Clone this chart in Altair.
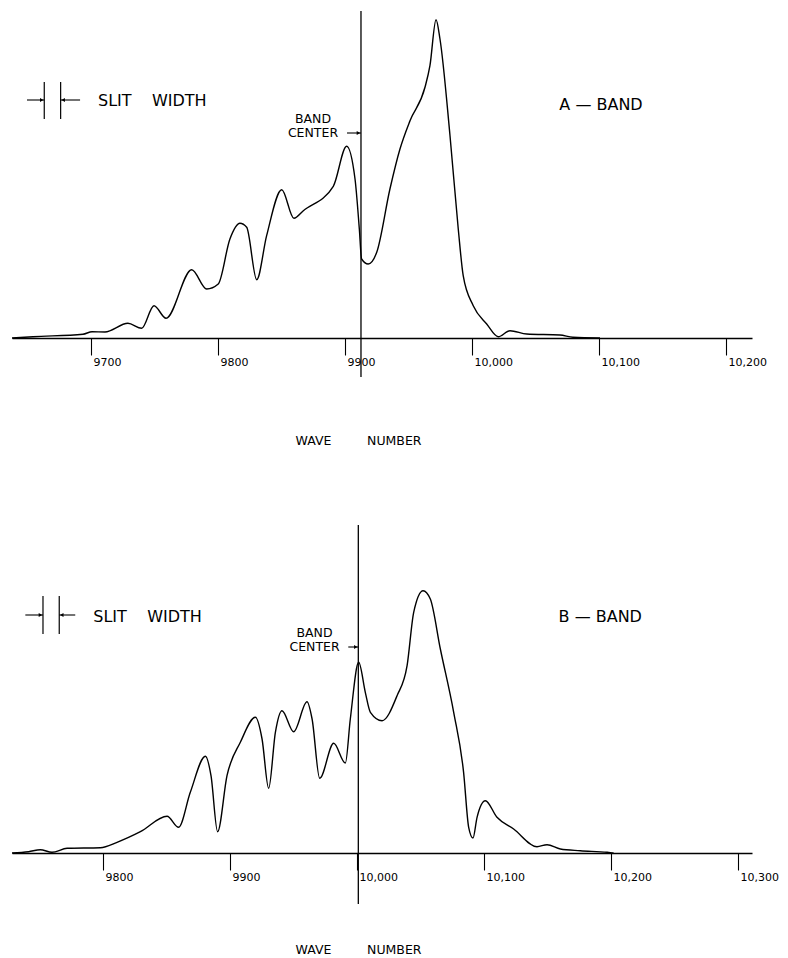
import altair as alt
import pandas as pd

# ---------------- data ----------------
# A-band spectrum (wave number, relative intensity)
a_wn = [9637.8, 9654.3, 9693.7, 9700.8, 9711.0, 9729.1, 9739.9, 9749.6, 9759.1, 9779.3,
        9791.1, 9800.2, 9809.4, 9817.3, 9822.6, 9830.5, 9838.3, 9850.2, 9859.8, 9867.2,
        9890.8, 9901.3, 9907.9, 9911.3, 9913.1, 9918.3, 9925.0, 9935.4, 9943.3, 9951.2,
        9963.0, 9966.9, 9971.7, 9974.8, 9982.7, 9989.2, 9993.1, 10001.0, 10011.6, 10020.7,
        10029.9, 10043.1, 10069.3, 10079.5, 10100.8]
a_int = [0, 1.3, 3.7, 6.3, 6.0, 14.7, 9.7, 32.3, 19.7, 68.3,
         49.0, 54.0, 99.0, 114.7, 110.7, 58.3, 102.3, 148.3, 119.7, 127.3,
         151.7, 191.7, 159.0, 109.0, 79.0, 74.0, 85.7, 149.0, 189.0, 217.3,
         250.7, 272.3, 318.3, 299.0, 202.3, 109.0, 62.3, 32.3, 14.0, 1.3,
         7.3, 4.0, 3.0, 0.7, 0]

# B-band spectrum
b_wn = [9728.3, 9741.4, 9750.6, 9759.8, 9771.7, 9797.9, 9811.0, 9829.4, 9850.4, 9859.5,
        9868.7, 9880.6, 9885.0, 9890.2, 9897.6, 9908.1, 9920.0, 9925.2, 9930.4, 9935.7,
        9940.9, 9950.1, 9960.6, 9964.6, 9970.6, 9981.6, 9990.8, 9994.7, 10001.3, 10006.5,
        10010.5, 10019.7, 10031.5, 10039.4, 10044.6, 10052.0, 10057.7, 10065.6, 10076.1, 10083.9,
        10087.9, 10091.3, 10094.5, 10101.0, 10110.2, 10123.3, 10141.7, 10149.6, 10160.1, 10175.8,
        10196.9, 10202.0]
b_int = [0, 1.3, 3.3, 0.7, 4.7, 5.3, 10.7, 21.3, 36.7, 25.7,
         60.7, 96.7, 77.3, 21.3, 77.3, 110.7, 135.7, 114.0, 64.7, 120.7,
         142.3, 121.3, 151.3, 134.0, 74.7, 109.7, 90.0, 134.0, 190.7, 160.7,
         140.7, 132.3, 157.3, 187.3, 240.7, 262.3, 254.0, 204.0, 140.7, 80.7,
         25.7, 15.0, 35.7, 52.3, 35.7, 24.0, 6.3, 8.3, 4.0, 2.3,
         0.7, 0]

a_ticks = [9700, 9800, 9900, 10000, 10100, 10200]
b_ticks = [9800, 9900, 10000, 10100, 10200, 10300]

a_xdomain = [9637.8, 10220.5]
b_xdomain = [9728.3, 10311.0]

a_center = 9912.6
b_center = 10001.0

# slit width markers (left line, right line)
a_slit = [9663.2, 9676.1]
b_slit = [9752.7, 9765.5]

a_label = "A \u2014 BAND"
b_label = "B \u2014 BAND"
slit_text = "SLIT\u00a0\u00a0\u00a0\u00a0WIDTH"
title_text = "WAVE" + "\u00a0" * 9 + "NUMBER"

assert len(a_wn) == len(a_int) and len(b_wn) == len(b_int)

FONT = "DejaVu Sans"
W = 740
LABEL_EXPR = "datum.value < 10000 ? '' + datum.value : format(datum.value, ',')"


def panel(wn, inten, ticks, xdom, ymax, center, center_low, slit, slit_lo, slit_hi,
          slit_mid, arrow_l, arrow_r, slit_txt_x, slit_txt_y, band_x, band_y, cen_x, cen_y,
          cen_arrow_from, name_x, name_y, name, title_y):
    x = alt.X("wn:Q",
              scale=alt.Scale(domain=xdom, nice=False, zero=False),
              axis=alt.Axis(values=ticks, title=title_text, grid=False,
                            domainColor="black", domainWidth=1.4,
                            tickColor="black", tickWidth=1.1, tickSize=17,
                            labelFont=FONT, labelFontSize=11, labelColor="black",
                            labelAlign="left", labelBaseline="top", labelPadding=1,
                            labelOffset=2, labelExpr=LABEL_EXPR, labelFlush=False,
                            labelOverlap=False,
                            titleFont=FONT, titleFontSize=12.5, titleFontWeight="normal",
                            titleColor="black", titleX=346, titleY=title_y,
                            titleAlign="center", titleBaseline="middle"))
    y = alt.Y("I:Q", scale=alt.Scale(domain=[0, ymax], nice=False), axis=None)

    spec = pd.DataFrame({"wn": wn, "I": inten})
    line = alt.Chart(spec).mark_line(interpolate="monotone", color="black",
                                      strokeWidth=1.4).encode(x=x, y=y)

    # band-center vertical line
    cdf = pd.DataFrame({"wn": [center], "I": [ymax], "I2": [center_low]})
    crule = alt.Chart(cdf).mark_rule(color="black", strokeWidth=1.3).encode(
        x=x, y=y, y2="I2:Q")

    # slit width vertical lines
    sdf = pd.DataFrame({"wn": slit, "I": [slit_hi, slit_hi], "I2": [slit_lo, slit_lo]})
    srule = alt.Chart(sdf).mark_rule(color="black", strokeWidth=1.2).encode(
        x=x, y=y, y2="I2:Q")

    # horizontal arrow shafts (slit arrows + band-center arrow)
    hdf = pd.DataFrame({"wn": [arrow_l, slit[1], cen_arrow_from],
                        "wn2": [slit[0], arrow_r, center],
                        "I": [slit_mid, slit_mid, cen_y]})
    hrule = alt.Chart(hdf).mark_rule(color="black", strokeWidth=1.1).encode(
        x=x, x2="wn2:Q", y=y)

    # arrow heads
    pdf = pd.DataFrame({"wn": [slit[0] - 2.0, slit[1] + 2.0, center - 2.0],
                        "I": [slit_mid, slit_mid, cen_y],
                        "shape": ["triangle-right", "triangle-left", "triangle-right"]})
    heads = alt.Chart(pdf).mark_point(filled=True, color="black", size=16, opacity=1).encode(
        x=x, y=y, shape=alt.Shape("shape:N", scale=None))

    # left aligned text
    ldf = pd.DataFrame({"wn": [slit_txt_x], "I": [slit_txt_y], "t": [slit_text]})
    ltext = alt.Chart(ldf).mark_text(align="left", baseline="middle", font=FONT,
                                     fontSize=16, color="black").encode(
        x=x, y=y, text="t:N")

    # centred text
    tdf = pd.DataFrame({"wn": [band_x, cen_x, name_x], "I": [band_y, cen_y, name_y],
                        "t": ["BAND", "CENTER", name], "fs": [12.5, 12.5, 16]})
    ctext = alt.Chart(tdf).mark_text(align="center", baseline="middle", font=FONT,
                                     color="black").encode(
        x=x, y=y, text="t:N", size=alt.Size("fs:Q", scale=None))

    return alt.layer(line, crule, srule, hrule, heads, ltext, ctext).properties(
        width=W, height=ymax)


top = panel(a_wn, a_int, a_ticks, a_xdomain, 327, a_center, -39, a_slit, 219, 256, 238,
            9649.6, 9691.4, 9705.5, 237, 9874.8, 219.5, 9874.8, 205, 9901.6,
            10101.6, 233, a_label, 102)

bottom = panel(b_wn, b_int, b_ticks, b_xdomain, 328, b_center, -51, b_slit, 219, 257, 238,
               9738.8, 9778.1, 9792.3, 236, 9966.5, 220.5, 9966.5, 206, 9993.1,
               10191.5, 236, b_label, 96)

chart = alt.vconcat(top, bottom, spacing=187, bounds="flush").properties(
    padding={"top": 2, "left": 1, "right": 0, "bottom": 0}
).configure_view(strokeWidth=0)

chart.save("out.html", embed_options={"renderer": "svg", "actions": False})
